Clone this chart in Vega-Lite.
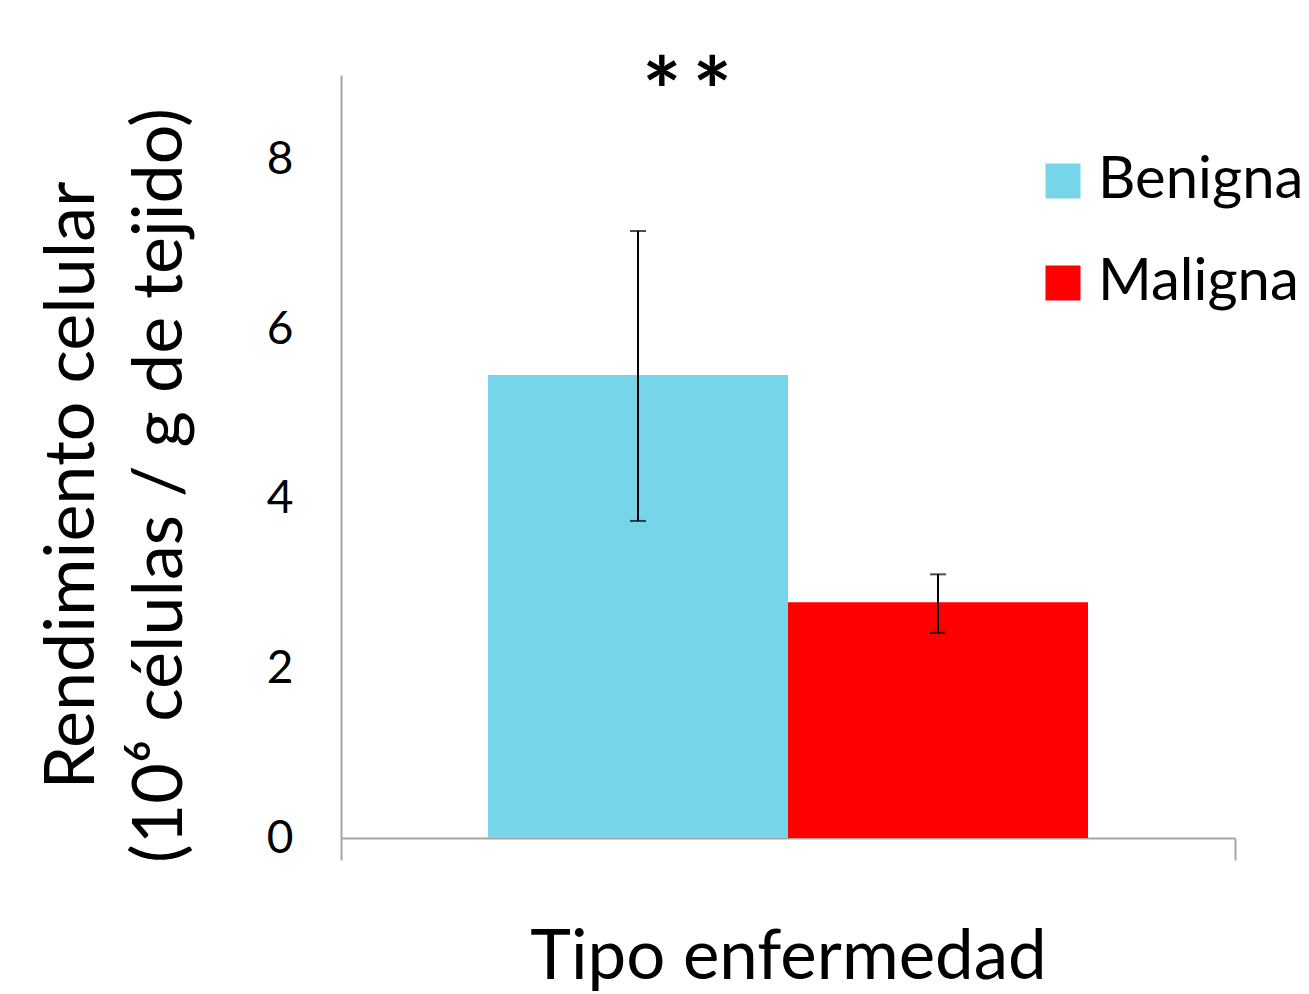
{
  "$schema": "https://vega.github.io/schema/vega-lite/v6.json",
  "width": 894,
  "height": 763,
  "autosize": {"type": "none"},
  "padding": {"left": 341, "top": 75, "right": 74, "bottom": 156},
  "background": "white",
  "config": {
    "font": "Lato",
    "view": {"stroke": null}
  },
  "datasets": {
    "bars": [
      {"tipo": "Tipo enfermedad", "grupo": "Benigna", "valor": 5.46, "lo": 3.74, "hi": 7.16},
      {"tipo": "Tipo enfermedad", "grupo": "Maligna", "valor": 2.78, "lo": 2.42, "hi": 3.11}
    ],
    "sig": [
      {"tipo": "Tipo enfermedad", "grupo": "Benigna", "y": 9, "label": "*\u2009*"}
    ]
  },
  "layer": [
    {
      "data": {"name": "bars"},
      "mark": {"type": "bar"},
      "encoding": {
        "x": {
          "field": "tipo", "type": "nominal",
          "scale": {"paddingInner": 0, "paddingOuter": 0},
          "axis": {
            "labels": false,
            "tickBand": "extent",
            "ticks": true,
            "tickSize": 22,
            "tickColor": "#a6a6a6",
            "tickWidth": 2,
            "domainColor": "#a6a6a6",
            "domainWidth": 2,
            "title": "Tipo enfermedad",
            "titleFontSize": 69,
            "titleFontWeight": "normal",
            "titleColor": "black",
            "titlePadding": 62
          }
        },
        "xOffset": {
          "field": "grupo", "type": "nominal",
          "scale": {"paddingInner": 0, "paddingOuter": 0.49}
        },
        "y": {
          "field": "valor", "type": "quantitative",
          "scale": {"domain": [0, 9], "nice": false},
          "axis": {
            "values": [0, 2, 4, 6, 8],
            "format": "d",
            "grid": false,
            "ticks": false,
            "domainColor": "#a6a6a6",
            "domainWidth": 2,
            "labelFontSize": 46,
            "labelColor": "black",
            "labelPadding": 48,
            "title": ["Rendimiento celular", "(10⁶ células / g de tejido)"],
            "titleFontSize": 70,
            "titleFontWeight": "normal",
            "titleColor": "black",
            "titleLineHeight": 88,
            "titleBaseline": "top",
            "titleAngle": -90,
            "titleX": -303,
            "titleY": 410
          }
        },
        "color": {
          "field": "grupo", "type": "nominal",
          "scale": {"domain": ["Benigna", "Maligna"], "range": ["#77d5ea", "#ff0000"]},
          "legend": {
            "title": null,
            "orient": "none",
            "legendX": 693,
            "legendY": 77,
            "symbolType": "square",
            "symbolSize": 1225,
            "symbolStrokeWidth": 0,
            "labelFontSize": 58,
            "labelLimit": 0,
            "labelColor": "black",
            "labelOffset": 6,
            "rowPadding": 44
          }
        }
      }
    },
    {
      "data": {"name": "bars"},
      "mark": {"type": "rule", "color": "black", "strokeWidth": 2},
      "encoding": {
        "x": {"field": "tipo", "type": "nominal"},
        "xOffset": {"field": "grupo", "type": "nominal"},
        "y": {"field": "lo", "type": "quantitative"},
        "y2": {"field": "hi"}
      }
    },
    {
      "data": {"name": "bars"},
      "mark": {"type": "tick", "color": "black", "thickness": 2, "size": 16, "orient": "horizontal"},
      "encoding": {
        "x": {"field": "tipo", "type": "nominal"},
        "xOffset": {"field": "grupo", "type": "nominal"},
        "y": {"field": "lo", "type": "quantitative"}
      }
    },
    {
      "data": {"name": "bars"},
      "mark": {"type": "tick", "color": "black", "thickness": 2, "size": 16, "orient": "horizontal"},
      "encoding": {
        "x": {"field": "tipo", "type": "nominal"},
        "xOffset": {"field": "grupo", "type": "nominal"},
        "y": {"field": "hi", "type": "quantitative"}
      }
    },
    {
      "data": {"name": "sig"},
      "mark": {"type": "text", "fontSize": 92, "fontWeight": "bold", "color": "black", "baseline": "alphabetic", "dx": 49, "dy": 50},
      "encoding": {
        "x": {"field": "tipo", "type": "nominal"},
        "xOffset": {"field": "grupo", "type": "nominal"},
        "y": {"field": "y", "type": "quantitative"},
        "text": {"field": "label"}
      }
    }
  ]
}
